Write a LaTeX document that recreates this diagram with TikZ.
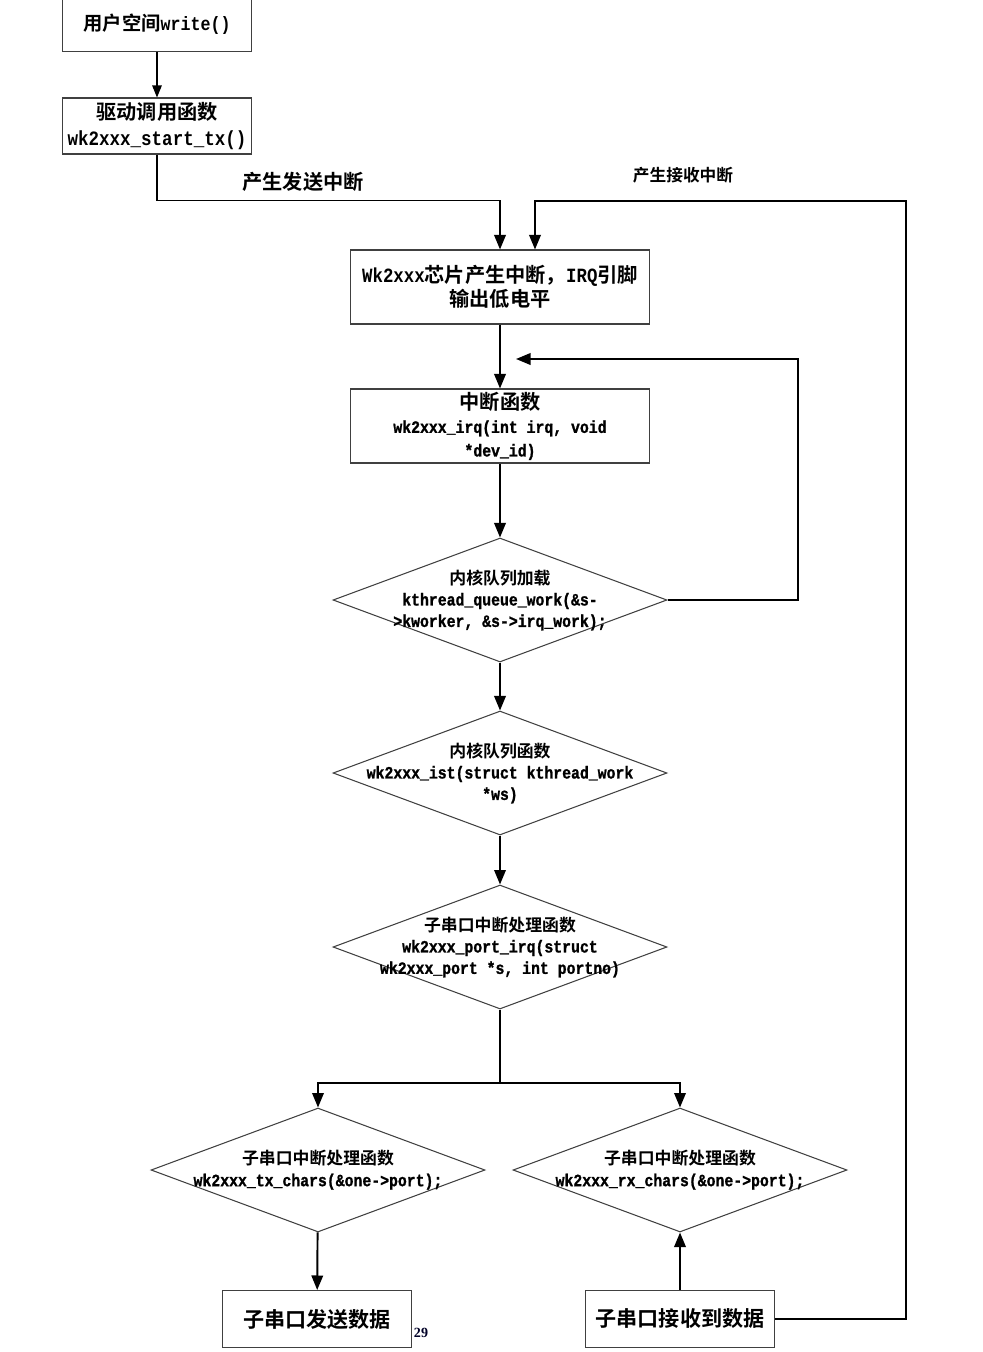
\documentclass[tikz,border=0pt]{standalone}
\usepackage{fontspec}
\setmainfont{Noto Sans CJK SC}[BoldFont={Noto Sans CJK SC Bold}]
\setmonofont{Liberation Mono}[FakeStretch=0.86]
\newfontfamily\codemd{Liberation Mono}[FakeStretch=0.86, FakeBold=1.2]
\newfontfamily\pagefont{Liberation Serif}
\usetikzlibrary{arrows.meta,positioning,shapes.geometric,calc}

\newcommand{\cd}[1]{{\ttfamily #1}}
\newcommand{\cdm}[1]{{\fontsize{9.8}{12.2}\selectfont\codemd #1}}

\begin{document}
\begin{tikzpicture}[x=0.02cm, y=-0.02cm,
	every node/.style={font=\bfseries\fontsize{11}{14}\selectfont},
	bx/.style={draw=black!75, line width=0.6pt, inner sep=1pt, align=center},
	dia/.style={draw=black!75, line width=0.6pt, diamond, inner sep=0pt, minimum width=6.68cm, minimum height=2.48cm},
	txt/.style={align=center, font=\bfseries\fontsize{9.6}{12.2}\selectfont},
	arr/.style={line width=1.1pt, -{Triangle[length=0.29cm, width=0.23cm]}},
	ln/.style={line width=1.1pt}]
	\clip (0,0) rectangle (983,1352);
	\node[bx, minimum width=3.78cm, minimum height=1.1cm] (user) at (157,24) {用户空间\cd{write()}};
	\node[bx, minimum width=3.78cm, minimum height=1.12cm, font=\bfseries\fontsize{11.5}{14.7}\selectfont] (drv) at (157,126) {驱动调用函数\\{\fontsize{11.6}{14.7}\selectfont\cd{wk2xxx\_start\_tx()}}};
	\node[bx, minimum width=5.98cm, minimum height=1.48cm, font=\bfseries\fontsize{11.5}{14}\selectfont] (chip) at (500,287) {\cd{Wk2xxx}芯片产生中断，\cd{IRQ}引脚\\输出低电平};
	\node[bx, minimum width=5.98cm, minimum height=1.48cm, font=\bfseries\fontsize{11.5}{13.4}\selectfont] (irq) at (500,426) {中断函数\\\cdm{wk2xxx\_irq(int irq, void}\\\cdm{*dev\_id)}};
	\node[dia, label={[txt]center:内核队列加载\\\cdm{kthread\_queue\_work(\&s-}\\\cdm{>kworker, \&s->irq\_work);}}] (queue) at (500,600) {};
	\node[dia, label={[txt]center:内核队列函数\\\cdm{wk2xxx\_ist(struct kthread\_work}\\\cdm{*ws)}}] (ist) at (500,773) {};
	\node[dia, label={[txt]center:子串口中断处理函数\\\cdm{wk2xxx\_port\_irq(struct}\\\cdm{wk2xxx\_port *s, int portno)}}] (port) at (500,947) {};
	\node[dia, label={[txt]center:子串口中断处理函数\\\cdm{wk2xxx\_tx\_chars(\&one->port);}}] (txc) at (318,1170) {};
	\node[dia, label={[txt]center:子串口中断处理函数\\\cdm{wk2xxx\_rx\_chars(\&one->port);}}] (rxc) at (680,1170) {};
	\node[bx, minimum width=3.78cm, minimum height=1.14cm, font=\bfseries\fontsize{12}{14}\selectfont] (tx) at (317,1319) {子串口发送数据};
	\node[bx, minimum width=3.78cm, minimum height=1.14cm, font=\bfseries\fontsize{12}{14}\selectfont] (rx) at (680,1319) {子串口接收到数据};
	\node[font=\bfseries\fontsize{11.5}{14}\selectfont] (sendlbl) at (303,182) {产生发送中断};
	\node[font=\bfseries\fontsize{9.5}{12}\selectfont] (recvlbl) at (683,175) {产生接收中断};
	\node[font=\pagefont\bfseries\fontsize{8}{10}\selectfont, text=black!85!blue] (pg) at (421,1333) {29};
	\coordinate (rxcorner) at (906,201);
	\coordinate (loopcorner) at (798,359);
	\coordinate (loopend) at (516,359);
	\coordinate (split) at (500,1083);
	% main flow
	\draw[line width=0.6pt, -{Triangle[length=0.24cm, width=0.19cm]}] (user) -- (drv);
	\draw[arr] (drv.south) -- ++(0,46) -| (chip.north);
	\draw[arr] (rx.east) -| (rxcorner) -| ([xshift=0.7cm]chip.north);
	\draw[arr] (chip) -- (irq);
	\draw[arr] (irq) -- (queue);
	\draw[arr] (queue.east) -| (loopcorner) -- (loopend);
	\draw[arr] (queue) -- (ist);
	\draw[arr] (ist) -- (port);
	\draw[ln] (port.south) -- (split);
	\draw[arr] (split) -| (txc.north);
	\draw[arr] (split) -| (rxc.north);
	\draw[arr] (txc) -- (tx);
	\draw[arr] (rx) -- (rxc);
\end{tikzpicture}
\end{document}
